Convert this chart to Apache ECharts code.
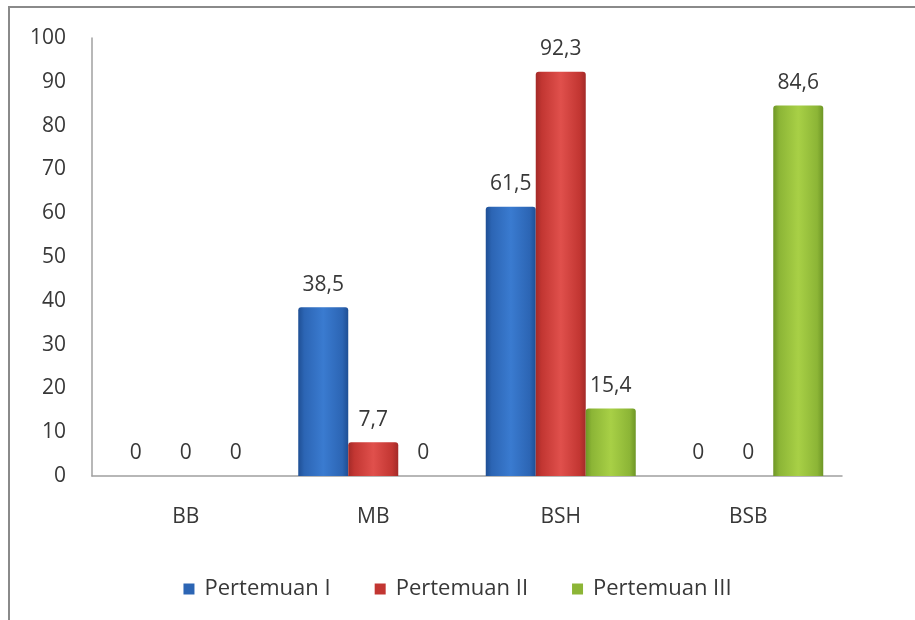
<!DOCTYPE html>
<html>
<head>
<meta charset="utf-8">
<script src="https://cdn.jsdelivr.net/npm/echarts@6/dist/echarts.min.js"></script>
<style>
html,body{margin:0;padding:0;background:#fff;}
#c{width:915px;height:620px;}
</style>
</head>
<body>
<div id="c"></div>
<script>
const categories = ['BB', 'MB', 'BSH', 'BSB'];
const seriesNames = ['Pertemuan I', 'Pertemuan II', 'Pertemuan III'];
const pertemuan1 = [0, 38.5, 61.5, 0];
const pertemuan2 = [0, 7.7, 92.3, 0];
const pertemuan3 = [0, 0, 15.4, 84.6];
const yTicks = [0, 10, 20, 30, 40, 50, 60, 70, 80, 90, 100];

const palettes = [
  ['#1f4f94', '#3a7bd0', '#2c65b4'],
  ['#a32a28', '#e0504c', '#c23632'],
  ['#6e9626', '#a8d046', '#8cb536']
];
function grad(p) {
  return new echarts.graphic.LinearGradient(0, 0, 1, 0, [
    {offset: 0, color: p[0]},
    {offset: 0.12, color: p[2]},
    {offset: 0.5, color: p[1]},
    {offset: 0.88, color: p[2]},
    {offset: 1, color: p[0]}
  ]);
}
const font = '"Open Sans", Lato, sans-serif';
const dataSets = [pertemuan1, pertemuan2, pertemuan3];
const chart = echarts.init(document.getElementById('c'));
chart.setOption({
  animation: false,
  textStyle: {fontFamily: font},
  graphic: [{
    type: 'polyline',
    shape: {points: [[9, 620], [9, 7], [915, 7]]},
    style: {stroke: '#8a8a8a', lineWidth: 2, fill: null}
  }],
  grid: {left: 92, right: 73, top: 38, bottom: 144, containLabel: false},
  legend: {
    top: 573,
    left: 'center',
    itemWidth: 11,
    itemHeight: 11,
    itemGap: 44,
    icon: 'rect',
    textStyle: {fontSize: 22, color: '#383838', fontFamily: font, padding: [0, 0, 0, 5]},
    data: seriesNames.map((n, i) => ({name: n, itemStyle: {color: palettes[i][2]}}))
  },
  xAxis: {
    type: 'category',
    data: categories,
    axisLine: {lineStyle: {color: '#a0a0a0', width: 1.5}},
    axisTick: {show: false},
    axisLabel: {fontSize: 21, color: '#383838', margin: 31}
  },
  yAxis: {
    type: 'value',
    min: yTicks[0],
    max: yTicks[yTicks.length - 1],
    interval: 10,
    axisLine: {show: true, lineStyle: {color: '#a0a0a0', width: 1.5}},
    axisTick: {show: false},
    splitLine: {show: false},
    axisLabel: {fontSize: 21, color: '#383838', margin: 26}
  },
  series: seriesNames.map((n, i) => ({
    name: n,
    type: 'bar',
    data: dataSets[i],
    barGap: '0%',
    barCategoryGap: '20%',
    itemStyle: {color: grad(palettes[i]), borderRadius: [3, 3, 0, 0]},
    label: {
      show: true,
      position: 'top',
      distance: 12,
      fontSize: 21,
      color: '#383838',
      formatter: p => String(p.value).replace('.', ',')
    }
  }))
});
</script>
</body>
</html>
